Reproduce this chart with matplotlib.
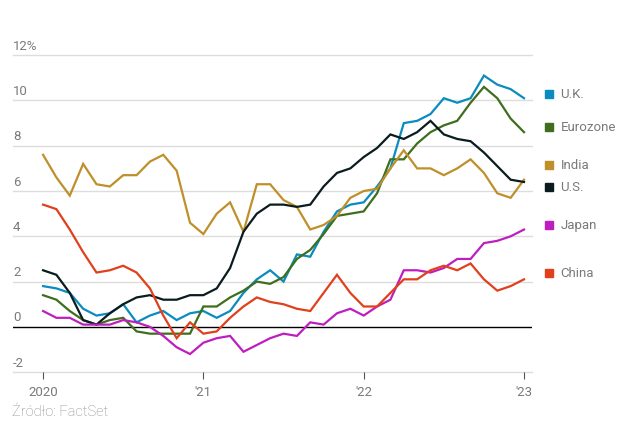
'''
Inflation rates, Jan 2020 - Jan 2023 (year over year, %)
'''
import matplotlib
matplotlib.use('Agg')
import matplotlib.pyplot as plt
import matplotlib.transforms as mtransforms

# monthly readings, Jan 2020 .. Jan 2023
countries = ['U.K.', 'Eurozone', 'India', 'U.S.', 'Japan', 'China']
colors = ['#0a8cbe', '#3e6e1e', '#bf8f2a', '#0a1c1e', '#bf1ebf', '#e0401c']

uk = [1.8, 1.7, 1.5, 0.8, 0.5, 0.6, 1.0, 0.2, 0.5, 0.7, 0.3, 0.6,
      0.7, 0.4, 0.7, 1.5, 2.1, 2.5, 2.0, 3.2, 3.1, 4.2, 5.1, 5.4,
      5.5, 6.2, 7.0, 9.0, 9.1, 9.4, 10.1, 9.9, 10.1, 11.1, 10.7, 10.5,
      10.1]
eurozone = [1.4, 1.2, 0.7, 0.3, 0.1, 0.3, 0.4, -0.2, -0.3, -0.3, -0.3, -0.3,
            0.9, 0.9, 1.3, 1.6, 2.0, 1.9, 2.2, 3.0, 3.4, 4.1, 4.9, 5.0,
            5.1, 5.9, 7.4, 7.4, 8.1, 8.6, 8.9, 9.1, 9.9, 10.6, 10.1, 9.2,
            8.6]
india = [7.6, 6.6, 5.8, 7.2, 6.3, 6.2, 6.7, 6.7, 7.3, 7.6, 6.9, 4.6,
         4.1, 5.0, 5.5, 4.2, 6.3, 6.3, 5.6, 5.3, 4.3, 4.5, 4.9, 5.7,
         6.0, 6.1, 7.0, 7.8, 7.0, 7.0, 6.7, 7.0, 7.4, 6.8, 5.9, 5.7,
         6.5]
us = [2.5, 2.3, 1.5, 0.3, 0.1, 0.6, 1.0, 1.3, 1.4, 1.2, 1.2, 1.4,
      1.4, 1.7, 2.6, 4.2, 5.0, 5.4, 5.4, 5.3, 5.4, 6.2, 6.8, 7.0,
      7.5, 7.9, 8.5, 8.3, 8.6, 9.1, 8.5, 8.3, 8.2, 7.7, 7.1, 6.5,
      6.4]
japan = [0.7, 0.4, 0.4, 0.1, 0.1, 0.1, 0.3, 0.2, 0.0, -0.4, -0.9, -1.2,
         -0.7, -0.5, -0.4, -1.1, -0.8, -0.5, -0.3, -0.4, 0.2, 0.1, 0.6, 0.8,
         0.5, 0.9, 1.2, 2.5, 2.5, 2.4, 2.6, 3.0, 3.0, 3.7, 3.8, 4.0,
         4.3]
china = [5.4, 5.2, 4.3, 3.3, 2.4, 2.5, 2.7, 2.4, 1.7, 0.5, -0.5, 0.2,
         -0.3, -0.2, 0.4, 0.9, 1.3, 1.1, 1.0, 0.8, 0.7, 1.5, 2.3, 1.5,
         0.9, 0.9, 1.5, 2.1, 2.1, 2.5, 2.7, 2.5, 2.8, 2.1, 1.6, 1.8,
         2.1]

series = [uk, eurozone, india, us, japan, china]
# where each end label sits (data units), nudged apart so they don't collide
label_y = [10.3, 8.85, 7.15, 6.2, 4.5, 2.4]

year_ticks = [0, 12, 24, 36]
year_labels = ['2020', "'21", "'22", "'23"]
y_ticks = [-2, 0, 2, 4, 6, 8, 10, 12]
y_labels = ['-2', '0', '2', '4', '6', '8', '10', '12%']

plt.rcParams['font.family'] = ['Roboto', 'DejaVu Sans']
grey = '#7a7a7a'

fig = plt.figure(figsize=(6.4, 4.39), dpi=100)
ax = fig.add_axes([0.0203, 0.150, 0.811, 0.722])

months = range(len(uk))
for vals, col in zip(series, colors):
    ax.plot(months, vals, color=col, lw=1.6, solid_joinstyle='miter', zorder=3)

ax.set_xlim(-2.25, 36.6)
ax.set_ylim(-2, 12)

# horizontal grid, zero line in black
for t in y_ticks:
    if t == 0:
        ax.axhline(0, color='black', lw=1.0, zorder=2)
    else:
        ax.axhline(t, color='#dddddd', lw=1.0, zorder=1, clip_on=False)

for s in ax.spines.values():
    s.set_visible(False)

ax.set_yticks([])
ax.set_xticks(year_ticks)
ax.set_xticklabels(year_labels, color=grey, fontsize=9.5)
ax.tick_params(axis='x', length=5, width=0.8, color='#555555', pad=4)

# y labels sit above their gridline, flush left
ytrans = mtransforms.blended_transform_factory(ax.transAxes, ax.transData)
for t, lab in zip(y_ticks, y_labels):
    ax.text(0.0, t + 0.15, lab, transform=ytrans, ha='left', va='bottom',
            color=grey, fontsize=9.5)

# end-of-line legend
for name, col, ly in zip(countries, colors, label_y):
    ax.plot([1.033], [ly], marker='s', ms=6, color=col, transform=ytrans,
            clip_on=False, ls='none')
    ax.text(1.055, ly, name, transform=ytrans, ha='left', va='center',
            color=grey, fontsize=9.5)

fig.text(0.019, 0.062, 'Źródło: FactSet', color='#8a8a8a', fontsize=10.5,
         ha='left', va='center', fontweight='light')

fig.savefig('out.png', dpi=100)
